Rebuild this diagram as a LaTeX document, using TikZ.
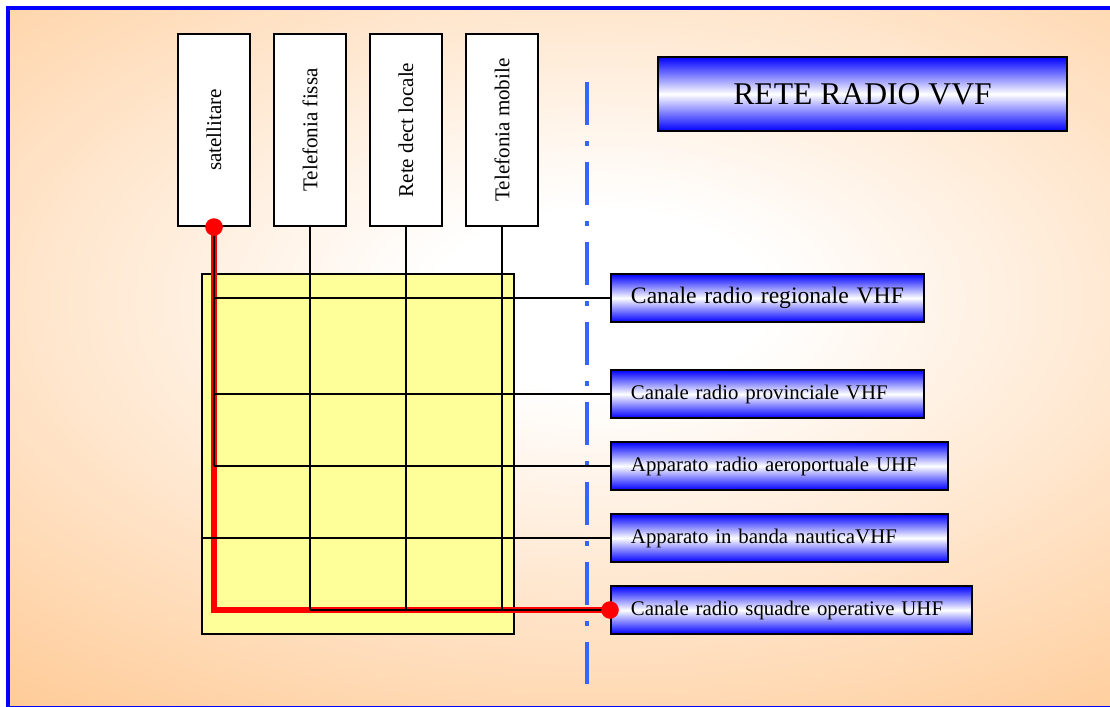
\documentclass[tikz,border=0pt]{standalone}
\usepackage{fontspec}
\setmainfont{Liberation Serif}
\usetikzlibrary{positioning,calc}
\definecolor{mpeach}{HTML}{FFCC99}
\definecolor{myellow}{HTML}{FFFF99}
\definecolor{mdash}{HTML}{3366FF}
\pgfdeclareradialshading{glow}{\pgfpoint{0bp}{0bp}}{color(0bp)=(white); color(3bp)=(white); color(17bp)=(mpeach); color(50bp)=(mpeach)}
\tikzstyle{l2}=[line width=1.4pt]
\tikzstyle{source}=[draw=black, l2, fill=white, minimum width=1.8cm, minimum height=4.8cm, inner sep=0pt, font=\fontsize{15}{18}\selectfont]
\tikzstyle{channel}=[draw=black, l2, top color=blue, bottom color=blue, middle color=white, minimum height=1.2cm, inner xsep=0.5cm, align=left, anchor=west, font=\fontsize{14.8}{18}\selectfont]
\tikzstyle{banner}=[channel, anchor=center, minimum width=10.225cm, minimum height=1.85cm, align=center, font=\fontsize{22.5}{27}\selectfont]
\tikzstyle{link}=[l2, draw=black]
\tikzstyle{route}=[line width=3.6pt, red]
\tikzstyle{dot}=[circle, fill=red, minimum size=0.44cm, inner sep=0pt]
\tikzstyle{divider}=[mdash, line width=3.5pt, dash pattern=on 1.075cm off 0.4cm on 0.125cm off 0.4cm]

\begin{document}
\begin{tikzpicture}[x=0.025cm, y=-0.025cm]

    \useasboundingbox (0,0) rectangle (1110,707);
    \clip (0,0) rectangle (1110,707);

    % sfondo
    \fill[mpeach] (8,8) rectangle (1130,708);
    \begin{scope}
        \clip (8,8) rectangle (1130,708);
        \shade[shading=glow] (600,300) ellipse [x radius=35cm, y radius=18.75cm];
    \end{scope}
    \draw[blue, line width=0.1cm] (8,8) rectangle (1130,708);

    \node[draw=black, l2, fill=myellow, minimum width=7.8cm, minimum height=9cm, inner sep=0pt] (grid) at (358,454) {};

    \coordinate (dtop) at (587,82);
    \coordinate (dbot) at (587,684);
    \draw[divider] (dtop) -- (dbot);

    \foreach \n/\t [count=\i from 0] in {sat/satellitare, fix/Telefonia fissa, dect/Rete dect locale, mob/Telefonia mobile}{
            \node[source] (\n) at (214+96*\i, 130) {\rotatebox{90}{\t}};
        }

    \node[banner] (title) at (862.5,94) {RETE RADIO VVF};

    \node[channel, text width=6.825cm, font=\fontsize{16.8}{20}\selectfont] (reg) at (610,298) {\mbox{Canale radio regionale VHF}};
    \node[channel, text width=6.825cm] (prov) at (610,394) {Canale radio provinciale VHF};
    \node[channel, text width=7.425cm] (aero) at (610,466) {Apparato radio aeroportuale UHF};
    \node[channel, text width=7.425cm] (naut) at (610,538) {Apparato in banda nauticaVHF};
    \node[channel, text width=8.025cm] (squad) at (610,610) {Canale radio squadre operative UHF};

    % percorso satellitare -> squadre
    \draw[route] (sat.south) -- (sat.south |- squad.west) -- (squad.west);

    \draw[link] (sat.south) -- (sat.south |- aero.west);
    \foreach \c in {reg, prov, aero}{
            \draw[link] (sat.south |- \c.west) -- (\c.west);
        }
    \draw[link] (grid.west |- naut.west) -- (naut.west);
    \foreach \n in {fix, dect, mob}{
            \draw[link] (\n.south) -- (\n.south |- squad.west);
        }
    \draw[link] (fix.south |- squad.west) -- (squad.west);

    \node[dot] (d1) at (sat.south) {};
    \node[dot] (d2) at (squad.west) {};

\end{tikzpicture}
\end{document}
